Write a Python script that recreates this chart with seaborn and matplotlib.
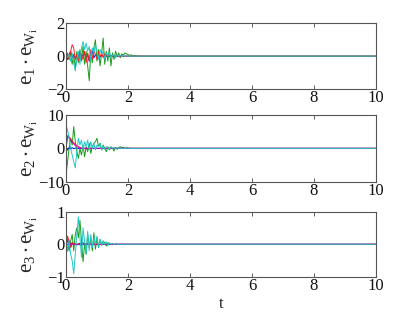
import matplotlib
matplotlib.use('Agg')
import matplotlib.pyplot as plt
import numpy as np
import seaborn as sns

# Every series has settled to zero after ~2.3 s and stays there up to t = 10.
dt = 0.05
t_end = 10

# panel 1: e1 . eW_i
p1_blue = [0, -0.2, 0.1, 0.3, -0.1, 0.1, -0.1, 0.05, 0.1, -0.2, 0.1, 0.0, 0.2, -0.1,
           0.1, -0.3, 0.2, 0.3, -0.1, 0.1, 0.0, 0.1, -0.05, 0.05, 0.0, 0.02, 0.0]
p1_green = [0, 0.05, -0.2, 0.2, -0.5, 0.1, -0.8, 0.3, -0.4, 0.4, -0.3, 0.6, -0.5, 0.3,
            -0.6, -1.5, 0.2, -0.4, 0.5, 1.0, -0.3, 0.4, -0.6, 0.2, 1.1, -0.5, 0.3, -0.3,
            0.5, -0.6, 0.2, -0.2, 0.3, 0.0, 0.2, -0.1, 0.15, 0.05, 0.2, 0.15, 0.1, 0.05,
            0.08, 0.03, 0.04, 0.0, 0.02, 0.0]
p1_red = [0, 0.2, -0.2, 0.3, 0.7, 0.5, -0.2, 0.1, -0.3, 0.2, 0.1, -0.2, 0.3, -0.4, 0.2,
          -0.3, 0.4, -0.2, 0.3, 0.1, -0.2, 0.3, 0.0, 0.2, -0.1, 0.15, 0.05, 0.1, 0.0,
          0.05, 0.02, 0.03, 0.0]
p1_cyan = [0, -0.1, 0.1, -0.3, 0.2, -0.4, -0.9, -0.2, 0.3, -0.5, 0.5, 0.9, 0.4, 0.8, 0.3,
           0.6, -0.3, 0.5, 0.2, 0.7, 0.3, -0.2, 0.4, 0.1, 0.3, -0.2, 0.2, 0.0, 0.25, -0.1,
           0.1, 0.05, -0.1, 0.08, 0.0, 0.05, -0.03, 0.04, 0.0, 0.02, -0.01, 0.01, 0.0]

# panel 2: e2 . eW_i
p2_blue = [0, -0.5, 0.3, -0.2, 0.2, -0.1, 0.1, 0.0]
p2_green = [-8, -4, 0, 3, 1, 6.5, 2, -1, -3, 0, -2, 1, -2.5, 0.5, -1, 1.5, -1.5, 0.5, 1.5,
            2, 3, 0.5, 1.5, -0.5, 1, 0, -1, 0.5, -0.5, 0.5, 0, -0.8, 0.3, -0.3, 0.2, 0.5,
            0.2, 0.3, 0, 0.2, 0.1, 0.05, 0.0]
p2_red = [0, 3.8, 3.5, 2.8, 2.2, 1.6, 1.2, 0.8, 0.5, 0.3, 0.1, -0.1, 0.0]
p2_magenta = [0, 3.5, 3.1, 2.5, 1.8, 1.3, 0.9, 0.6, 0.3, 0.1, 0.0]
p2_cyan = [7, 5.5, 3, 0, -2, -4, -5.8, -1, 3, 1, 2.5, -0.5, 2, 0.5, 2.5, -0.5, 2, 0, 1.5,
           -0.5, 1, 0.5, 1.5, -0.5, 0.8, -0.3, 0.5, 0.2, -0.2, 0.3, 0, 0.2, -0.1, 0.1, 0,
           0.05, 0.0]

# panel 3: e3 . eW_i
p3_blue = [0, -0.2, 0.1, -0.1, 0.05, 0.0, 0.02, -0.02, 0.0, 0.03, -0.03, 0.05, -0.05,
           0.02, 0.0]
p3_green = [0, 0.15, -0.2, 0.1, 0.3, -0.2, 0.3, 0.5, 0.2, 0.73, 0.1, -0.53, 0.0, -0.3,
            0.3, -0.1, 0.2, -0.2, 0.35, -0.15, 0.2, -0.1, 0.15, 0.0, 0.1, 0.05, -0.05,
            0.05, 0.0]
p3_red = [0, 0.25, 0.1, -0.1, 0.05, -0.02, 0.03, 0.0, 0.02, -0.02, 0.03, 0.0, 0.04,
          -0.02, 0.03, 0.0, 0.02, 0.0]
p3_magenta = [0, 0.15, -0.05, 0.03, 0.0]
p3_cyan = [0, -0.2, 0.1, -0.3, -0.5, -0.9, -0.3, 0.3, 0.84, 0.2, -0.4, 0.5, 0.1, -0.3,
           0.4, -0.2, 0.3, -0.1, 0.2, 0.0, 0.25, -0.1, 0.15, -0.05, 0.1, 0.0, 0.08, -0.05,
           0.05, 0.0, 0.03, -0.02, 0.02, 0.0]

panels = [
    ([(p1_blue, 'b'), (p1_green, 'g'), (p1_red, 'r'), (p1_cyan, 'c')],
     [-2, 2], [-2, 0, 2], r'$\mathregular{e_1 \cdot e_{W_i}}$'),
    ([(p2_blue, 'b'), (p2_green, 'g'), (p2_red, 'r'), (p2_magenta, 'm'), (p2_cyan, 'c')],
     [-10, 10], [-10, 0, 10], r'$\mathregular{e_2 \cdot e_{W_i}}$'),
    ([(p3_blue, 'b'), (p3_green, 'g'), (p3_red, 'r'), (p3_magenta, 'm'), (p3_cyan, 'c')],
     [-1, 1], [-1, 0, 1], r'$\mathregular{e_3 \cdot e_{W_i}}$'),
]
colors = {'b': '#0000ff', 'g': '#1a9a1a', 'r': '#ff2020', 'm': '#c000c0', 'c': '#20c8c8'}
x_ticks = [0, 2, 4, 6, 8, 10]

sns.set_style('ticks')
plt.rcParams['font.family'] = 'serif'
plt.rcParams['font.serif'] = ['Liberation Serif', 'DejaVu Serif']
plt.rcParams['mathtext.fontset'] = 'custom'
plt.rcParams['mathtext.rm'] = 'Liberation Serif'
plt.rcParams['mathtext.it'] = 'Liberation Serif:italic'
plt.rcParams['xtick.direction'] = 'in'
plt.rcParams['ytick.direction'] = 'in'

fig = plt.figure(figsize=(4.15, 3.12), dpi=100)
boxes = [[0.159, 0.715, 0.747, 0.21],
         [0.159, 0.417, 0.747, 0.215],
         [0.159, 0.112, 0.747, 0.21]]

for box, (series, ylim, yticks, ylabel) in zip(boxes, panels):
    ax = fig.add_axes(box)
    for vals, key in series:
        tt = list(np.arange(len(vals)) * dt) + [t_end]
        yy = list(vals) + [0]
        sns.lineplot(x=tt, y=yy, ax=ax, color=colors[key], linewidth=0.7, sort=False)
    ax.set_xlim(0, 10)
    ax.set_ylim(*ylim)
    ax.set_xticks(x_ticks)
    ax.set_yticks(yticks)
    ax.tick_params(labelsize=12, length=3, width=0.6, color='#444444',
                   labelcolor='#111111', top=True, right=True, pad=1)
    for s in ax.spines.values():
        s.set_linewidth(0.8)
        s.set_color('#555555')
    ax.set_ylabel(ylabel, fontsize=15, labelpad=0)
    ax.yaxis.set_label_coords(-0.085, 0.5)

ax.set_xlabel('t', fontsize=12, labelpad=1)

fig.savefig('out.png', dpi=100)
